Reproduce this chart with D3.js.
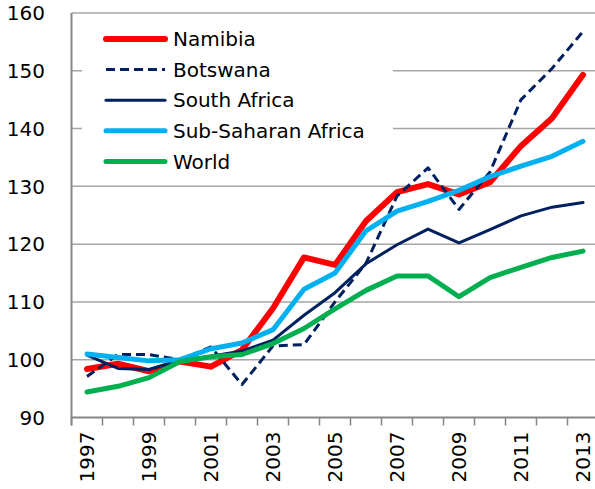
<!DOCTYPE html>
<html><head><meta charset="utf-8">
<script src="https://cdn.jsdelivr.net/npm/d3@7"></script>
<style>html,body{margin:0;padding:0;background:#fff;}svg{display:block;}</style>
</head><body>
<script>
const years = ["1997","1998","1999","2000","2001","2002","2003","2004","2005","2006","2007","2008","2009","2010","2011","2012","2013"];
const namibia = [98.4, 99.3, 98.0, 99.7, 98.8, 101.7, 108.9, 117.7, 116.4, 124.0, 129.0, 130.4, 128.6, 130.7, 137.0, 141.8, 149.3];
const botswana = [97.1, 100.9, 100.9, 100.0, 102.2, 95.7, 102.4, 102.6, 110.0, 116.7, 128.3, 133.2, 126.0, 132.5, 145.0, 150.4, 156.8];
const southAfrica = [100.8, 98.5, 98.3, 99.9, 100.6, 101.5, 103.4, 107.7, 111.6, 116.6, 119.9, 122.6, 120.2, 122.5, 124.9, 126.4, 127.2];
const subSaharan = [101.0, 100.4, 99.8, 100.0, 101.9, 102.9, 105.2, 112.2, 115.0, 122.3, 125.7, 127.4, 129.3, 131.7, 133.5, 135.2, 137.8];
const world = [94.4, 95.4, 96.9, 99.7, 100.5, 100.9, 102.8, 105.4, 108.8, 112.0, 114.5, 114.5, 110.9, 114.2, 116.0, 117.7, 118.8];
const yTicks = [90, 100, 110, 120, 130, 140, 150, 160];
const labelYears = ["1997","1999","2001","2003","2005","2007","2009","2011","2013"];

const series = [
  {name: "Namibia", values: namibia, color: "#FF0000", width: 6, dash: null},
  {name: "Botswana", values: botswana, color: "#002060", width: 3, dash: "9,5"},
  {name: "South Africa", values: southAfrica, color: "#002060", width: 3, dash: null},
  {name: "Sub-Saharan Africa", values: subSaharan, color: "#00B0F0", width: 5, dash: null},
  {name: "World", values: world, color: "#00B050", width: 5, dash: null}
];

const W = 595, H = 489;
const pLeft = 71.5, pRight = 598.5, pTop = 13, pBottom = 417.5;
const font = "'DejaVu Sans', Verdana, sans-serif";
const fs = "20px";

const svg = d3.select("body").append("svg").attr("width", W).attr("height", H);

const x = d3.scaleBand().domain(years).range([pLeft, pRight]).padding(0);
const y = d3.scaleLinear().domain([90, 160]).range([pBottom, pTop]);

// gridlines
svg.append("g").selectAll("line").data(yTicks.filter(d => d > 90)).join("line")
  .attr("x1", pLeft).attr("x2", pRight)
  .attr("y1", d => y(d)).attr("y2", d => y(d))
  .attr("stroke", "#A6A6A6").attr("stroke-width", 1.5);

// y labels
svg.append("g").selectAll("text").data(yTicks).join("text")
  .attr("x", 45).attr("y", d => y(d)).attr("dy", "0.36em")
  .attr("text-anchor", "end")
  .style("font-family", font).style("font-size", fs).attr("fill", "#000")
  .text(d => d);

// x axis
const xAxis = d3.axisBottom(x).tickSize(0).tickFormat(d => labelYears.includes(d) ? d : "");
const gx = svg.append("g").attr("transform", `translate(0,${pBottom})`).call(xAxis);
gx.select(".domain").remove();
gx.selectAll("text")
  .style("font-family", font).style("font-size", fs).attr("fill", "#000")
  .attr("transform", "rotate(-90)")
  .attr("text-anchor", "end")
  .attr("x", -14).attr("y", 0).attr("dy", "0.36em");
// band boundary tick marks
const edges = years.map(d => x(d)).concat([x(years[years.length - 1]) + x.bandwidth()]);
svg.append("g").selectAll("line").data(edges).join("line")
  .attr("x1", d => d).attr("x2", d => d)
  .attr("y1", pBottom).attr("y2", pBottom + 8)
  .attr("stroke", "#868686").attr("stroke-width", 1.5);

// axis lines
svg.append("line").attr("x1", pLeft).attr("x2", pLeft).attr("y1", pTop).attr("y2", pBottom + 8)
  .attr("stroke", "#868686").attr("stroke-width", 2);
svg.append("line").attr("x1", pLeft).attr("x2", pRight).attr("y1", pBottom).attr("y2", pBottom)
  .attr("stroke", "#868686").attr("stroke-width", 2);

// legend box (white background)
svg.append("rect").attr("x", 82).attr("y", 20).attr("width", 311).attr("height", 158).attr("fill", "#fff");

// lines
const line = d3.line().x((d, i) => x(years[i]) + x.bandwidth() / 2).y(d => y(d));
svg.append("g").selectAll("path").data(series).join("path")
  .attr("d", s => line(s.values))
  .attr("fill", "none")
  .attr("stroke", s => s.color)
  .attr("stroke-width", s => s.width)
  .attr("stroke-dasharray", s => s.dash)
  .attr("stroke-linejoin", "round")
  .attr("stroke-linecap", s => s.dash ? "butt" : "round");

// legend
const lg = svg.append("g");
series.forEach((s, i) => {
  const cy = 39 + i * 30.6;
  lg.append("line").attr("x1", 106).attr("x2", 165).attr("y1", cy).attr("y2", cy)
    .attr("stroke", s.color).attr("stroke-width", s.width)
    .attr("stroke-dasharray", s.dash)
    .attr("stroke-linecap", s.dash ? "butt" : "round");
  lg.append("text").attr("x", 173).attr("y", cy).attr("dy", "0.36em")
    .style("font-family", font).style("font-size", fs).attr("fill", "#000")
    .text(s.name);
});
</script>
</body></html>
